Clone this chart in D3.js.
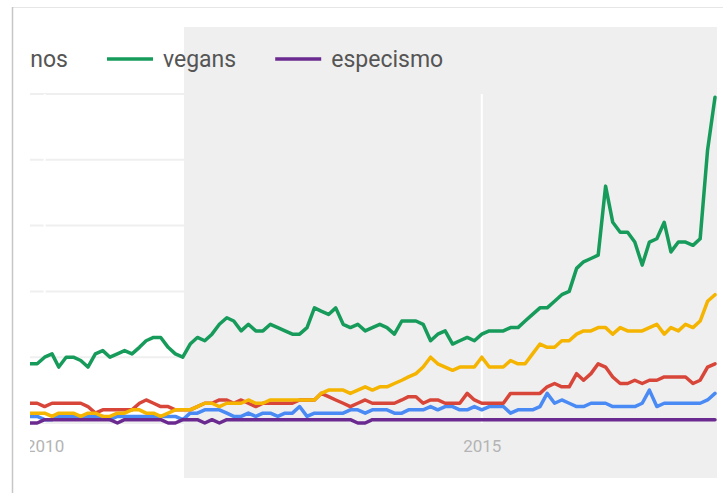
<!DOCTYPE html>
<html>
<head>
<meta charset="utf-8">
<script src="https://cdn.jsdelivr.net/npm/d3@7"></script>
<style>
    html, body { margin: 0; padding: 0; background: #fff; }
    svg { display: block; font-family: Roboto, "Noto Sans", sans-serif; }
</style>
</head>
<body>
<div class="container"></div>
<script>
// monthly Google Trends style series, Nov 2009 .. Sep 2017
var START_MONTH = new Date(2009, 10, 1);
var END_MONTH = new Date(2017, 8, 1);

var SERIES_NAMES = ['', '', 'veganos', 'vegans', 'especismo'];

var blueValues = [2,2,1,1,2,2,2,2,2,2, 2,1,2,2,2,2,2,2,2,2, 2,1,3,3,4,4,4,3,2,2,
    3,2,3,3,2,3,3,5,2,3, 3,3,3,3,4,4,3,4,4,4, 3,3,4,4,4,5,4,5,5,4,
    4,5,4,5,5,5,3,4,4,4, 5,9,6,7,6,5,5,6,6,6, 5,5,5,5,6,10,5,6,6,6,
    6,6,6,7,9];
var redValues = [6,6,5,6,6,6,6,6,5,3, 4,4,4,4,4,6,7,6,5,5, 4,4,4,5,6,6,7,7,6,7,
    6,5,6,6,6,6,6,7,7,7, 9,8,7,6,5,6,7,6,6,6, 6,7,8,8,6,7,7,6,6,6,
    9,7,6,6,6,6,9,9,9,9, 9,11,12,11,11,15,13,15,18,17, 14,12,12,13,12,13,13,14,14,14,
    14,12,13,17,18];
var yellowValues = [3,3,3,2,3,3,3,2,3,3, 2,2,3,3,4,4,3,3,2,3, 4,4,4,5,6,6,5,6,6,6,
    7,6,6,7,7,7,7,7,7,7, 9,10,10,10,9,10,11,10,11,11, 12,13,14,15,17,20,18,17,16,17,
    17,17,20,17,17,17,19,18,18,21, 24,23,23,25,25,27,28,28,29,29, 27,29,28,28,28,29,30,27,29,28,
    30,29,31,37,39];
var greenValues = [18,18,20,21,17,20,20,19,17,21, 22,20,21,22,21,23,25,26,26,23, 21,20,24,26,25,27,30,32,31,28,
    30,28,28,30,29,28,27,27,29,35, 34,33,35,30,29,30,28,29,30,29, 27,31,31,31,30,25,27,28,24,25,
    26,25,27,28,28,28,29,29,31,33, 35,35,37,39,40,47,49,50,51,72, 61,58,58,55,48,55,56,61,52,55,
    55,54,56,83,99];
var purpleValues = [0,0,1,1,1,1,1,1,1,1, 1,1,0,1,1,1,1,1,1,0, 0,1,1,1,0,1,0,1,1,1,
    1,1,1,1,1,1,1,1,1,1, 1,1,1,1,1,0,0,1,1,1, 1,1,1,1,1,1,1,1,1,1,
    1,1,1,1,1,1,1,1,1,1, 1,1,1,1,1,1,1,1,1,1, 1,1,1,1,1,1,1,1,1,1,
    1,1,1,1,1];

var TICK_YEARS = [2010, 2015];
var GRID_VALUES = [0, 20, 40, 60, 80, 100];

var SVG_WIDTH = 723;
var SVG_HEIGHT = 493;
var COLORS = ['#4a8af4', '#d8463a', '#f4b400', '#169b5b', '#6b2a90'];

document.addEventListener('DOMContentLoaded', function () {
    var months = d3.timeMonth.range(START_MONTH, d3.timeMonth.offset(END_MONTH, 1));
    var allValues = [blueValues, redValues, yellowValues, greenValues, purpleValues];

    var series = allValues.map(function (vals, k) {
        return {
            name: SERIES_NAMES[k],
            color: COLORS[k],
            points: vals.map(function (v, i) { return { date: months[i], value: v }; })
        };
    });

    var svg = d3.select('.container')
        .append('svg')
        .attr('width', SVG_WIDTH)
        .attr('height', SVG_HEIGHT);

    svg.append('defs')
        .append('clipPath')
        .attr('id', 'clip')
        .append('rect')
        .attr('x', 30)
        .attr('y', 0)
        .attr('width', SVG_WIDTH - 30)
        .attr('height', SVG_HEIGHT);

    var x = d3.scaleTime().domain([START_MONTH, END_MONTH]).range([30, 715]);
    var y = d3.scaleLinear().domain([0, 100]).range([423, 94]);

    // horizontal grid (only shows on the white part)
    svg.append('g')
        .selectAll('line')
        .data(GRID_VALUES)
        .enter()
        .append('line')
        .attr('x1', 30)
        .attr('x2', 717)
        .attr('y1', function (d) { return y(d); })
        .attr('y2', function (d) { return y(d); })
        .attr('stroke', '#efefef')
        .attr('stroke-width', 2);

    // shaded period
    svg.append('rect')
        .attr('x', 184)
        .attr('y', 27)
        .attr('width', 717 - 184)
        .attr('height', 478 - 27)
        .attr('fill', '#efefef');

    // year gridline (white on the shaded part)
    svg.append('g')
        .selectAll('line')
        .data(TICK_YEARS)
        .enter()
        .append('line')
        .attr('x1', function (d) { return x(new Date(d, 0, 1)); })
        .attr('x2', function (d) { return x(new Date(d, 0, 1)); })
        .attr('y1', y(100))
        .attr('y2', y(0))
        .attr('stroke', '#ffffff')
        .attr('stroke-width', 2);

    var plot = svg.append('g').attr('clip-path', 'url(#clip)');

    var line = d3.line()
        .x(function (d) { return x(d.date); })
        .y(function (d) { return y(d.value); });

    plot.selectAll('path.series')
        .data(series)
        .enter()
        .append('path')
        .attr('class', 'series')
        .attr('d', function (d) { return line(d.points); })
        .attr('fill', 'none')
        .attr('stroke', function (d) { return d.color; })
        .attr('stroke-width', 3.5)
        .attr('stroke-linejoin', 'round')
        .attr('stroke-linecap', 'round');

    // x axis labels
    var axis = d3.axisBottom(x)
        .tickValues(TICK_YEARS.map(function (d) { return new Date(d, 0, 1); }))
        .tickFormat(d3.timeFormat('%Y'))
        .tickSize(0)
        .tickPadding(0);

    var axisG = plot.append('g')
        .attr('transform', 'translate(0,438)')
        .call(axis);
    axisG.select('.domain').remove();
    axisG.selectAll('text')
        .attr('dy', 0)
        .attr('y', 14)
        .attr('fill', '#b4b4b4')
        .style('font-size', '17px')
        .style('font-family', 'Roboto, sans-serif');

    // legend, laid out left to right so the green swatch lands at x=107
    var legendItems = series.filter(function (d) { return d.name !== ''; });
    var legend = plot.append('g');
    var SWATCH = 46, GAP = 10, AFTER = 39;

    var texts = legend.selectAll('text')
        .data(legendItems)
        .enter()
        .append('text')
        .attr('y', 67)
        .attr('fill', '#555555')
        .style('font-size', '23px')
        .text(function (d) { return d.name; });

    var widths = [];
    texts.each(function () { widths.push(this.getComputedTextLength()); });
    var cursor = 107 - (SWATCH + GAP + widths[0] + AFTER);
    var starts = widths.map(function (w) {
        var s = cursor;
        cursor += SWATCH + GAP + w + AFTER;
        return s;
    });

    texts.attr('x', function (d, i) { return starts[i] + SWATCH + GAP; });

    legend.selectAll('line')
        .data(legendItems)
        .enter()
        .append('line')
        .attr('x1', function (d, i) { return starts[i]; })
        .attr('x2', function (d, i) { return starts[i] + SWATCH; })
        .attr('y1', 59)
        .attr('y2', 59)
        .attr('stroke', function (d) { return d.color; })
        .attr('stroke-width', 3.5);

    // card edges
    svg.append('line')
        .attr('x1', 12).attr('x2', SVG_WIDTH)
        .attr('y1', 7.5).attr('y2', 7.5)
        .attr('stroke', '#e6e6e6')
        .attr('stroke-width', 1);
    svg.append('line')
        .attr('x1', 12.5).attr('x2', 12.5)
        .attr('y1', 7).attr('y2', SVG_HEIGHT)
        .attr('stroke', '#c6c6c6')
        .attr('stroke-width', 1.5);
});
</script>
</body>
</html>
